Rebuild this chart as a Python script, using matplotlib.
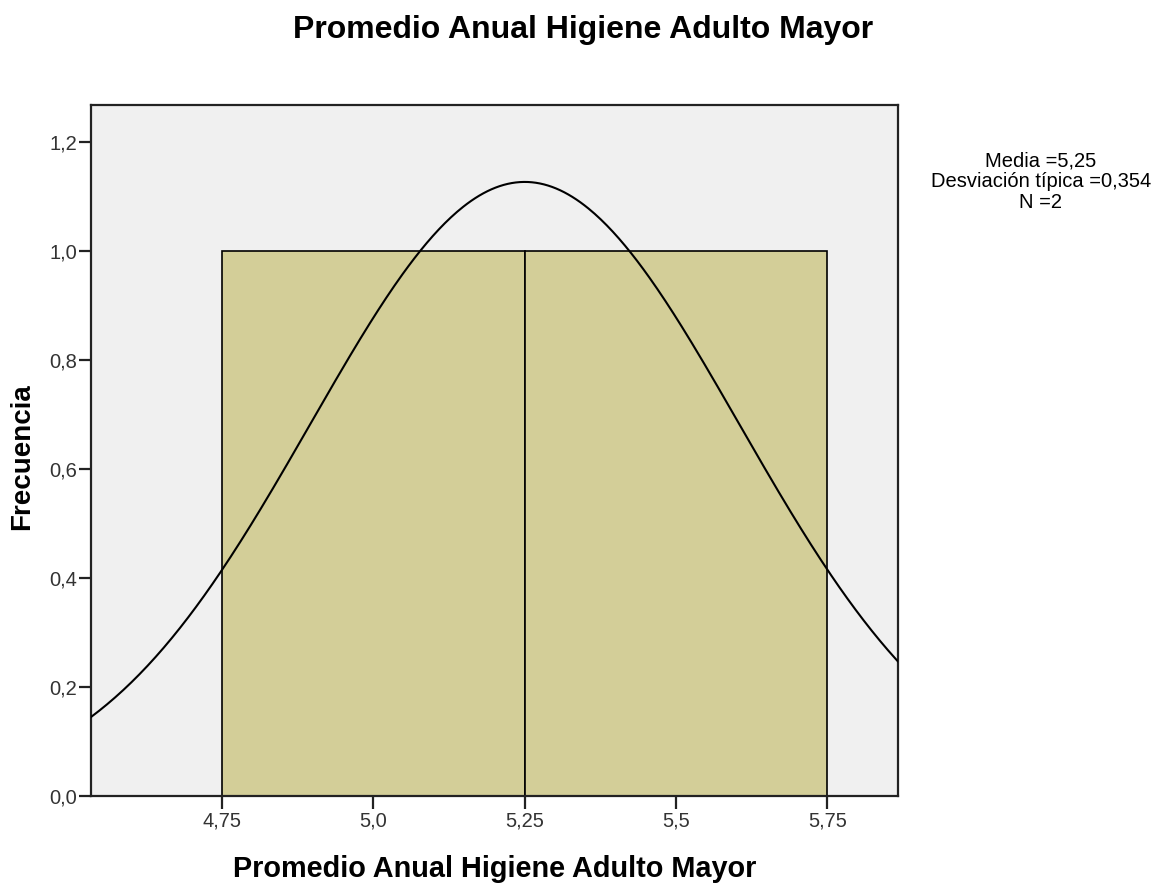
import numpy as np
import matplotlib
matplotlib.use("Agg")
import matplotlib.pyplot as plt

plt.rcParams['font.family'] = ['Liberation Sans', 'DejaVu Sans']

bin_edges = [4.75, 5.25, 5.75]
counts = [1, 1]
mean = 5.25
sd = 0.354
n = 2
xticks = [4.75, 5.0, 5.25, 5.5, 5.75]
xticklabels = ["4,75", "5,0", "5,25", "5,5", "5,75"]
yticks = [0.0, 0.2, 0.4, 0.6, 0.8, 1.0, 1.2]
yticklabels = ["0,0", "0,2", "0,4", "0,6", "0,8", "1,0", "1,2"]
title = "Promedio Anual Higiene Adulto Mayor"
stats = "Media =5,25\nDesviación típica =0,354\nN =2"

fig = plt.figure(figsize=(11.63, 8.83), dpi=100)
ax = fig.add_axes([0.0782, 0.0985, 0.6940, 0.7825])
ax.set_facecolor('#f0f0f0')

widths = np.diff(bin_edges)
ax.bar(bin_edges[:-1], counts, width=widths, align='edge',
       color='#d3ce98', edgecolor='black', linewidth=1.2, zorder=2)

xlim = (4.533, 5.867)
xs = np.linspace(xlim[0], xlim[1], 400)
bw = widths[0]
ys = n * bw / (sd * np.sqrt(2 * np.pi)) * np.exp(-0.5 * ((xs - mean) / sd) ** 2)
ax.plot(xs, ys, color='black', linewidth=1.5, zorder=3)

ax.set_xlim(*xlim)
ax.set_ylim(0, 1.268)
ax.set_xticks(xticks)
ax.set_xticklabels(xticklabels, fontsize=14.5)
ax.set_yticks(yticks)
ax.set_yticklabels(yticklabels, fontsize=14.5)
ax.tick_params(axis='x', direction='out', length=9, width=1.6, pad=2,
               colors='#222222', labelcolor='#333333')
ax.tick_params(axis='y', direction='out', length=9, width=1.6, pad=1,
               colors='#222222', labelcolor='#333333')
for s in ax.spines.values():
    s.set_linewidth(1.6)
    s.set_color('#222222')

fig.text(0.4252, 0.0068, title, fontsize=20.8, fontweight='bold',
         ha='center', va='baseline')
fig.text(0.019, 0.4825, "Frecuencia", fontsize=20, fontweight='bold',
         ha='center', va='center', rotation=90)
fig.text(0.501, 0.9566, title, fontsize=23, fontweight='bold',
         ha='center', va='baseline')

fig.text(0.895, 0.794, stats, fontsize=14.5, ha='center', va='center',
         linespacing=1.13)

fig.savefig("out.png", dpi=100)
